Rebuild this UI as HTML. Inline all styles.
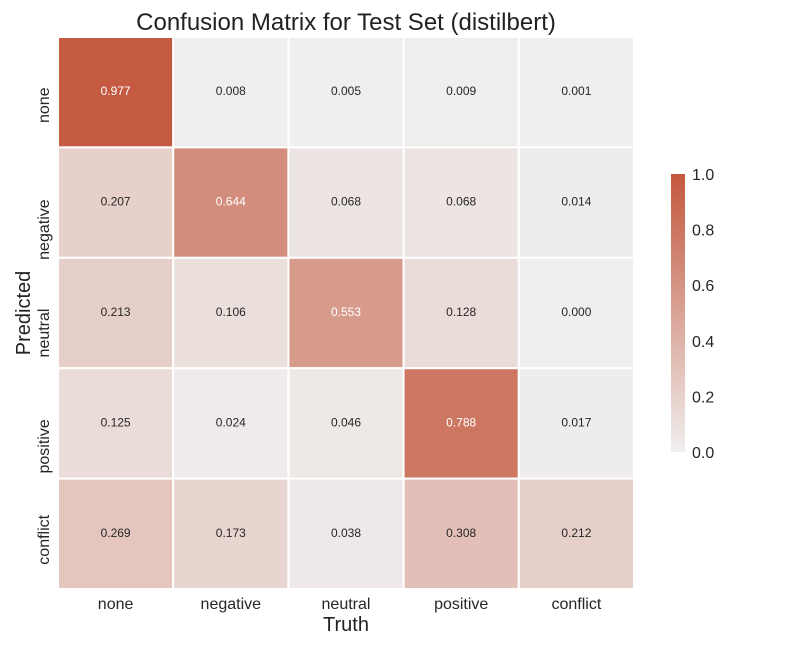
<!DOCTYPE html>
<html><head><meta charset="utf-8"><style>
body{margin:0;background:#fff;font-family:"Liberation Sans",sans-serif}
</style></head><body>
<svg id="c" width="792" height="648" xmlns="http://www.w3.org/2000/svg">
<defs><linearGradient id="g" x1="0" y1="1" x2="0" y2="0"><stop offset="0" stop-color="#f0efef"/><stop offset="1" stop-color="#c3573c"/></linearGradient></defs>
<text x="346" y="30" font-size="24" text-anchor="middle" fill="#222">Confusion Matrix for Test Set (distilbert)</text>
<text x="346" y="631" font-size="20" text-anchor="middle" fill="#222">Truth</text>
<text transform="translate(30,313) rotate(-90)" font-size="20" text-anchor="middle" fill="#222">Predicted</text>
<rect x="671" y="174" width="14" height="278" fill="url(#g)"/>
<g id="cells"></g><g id="ticks"></g>
</svg>
<script>
const labels=["none","negative","neutral","positive","conflict"];
const cbTicks=[0,0.2,0.4,0.6,0.8,1.0];
const row0=[0.977,0.008,0.005,0.009,0.001];
const row1=[0.207,0.644,0.068,0.068,0.014];
const row2=[0.213,0.106,0.553,0.128,0.000];
const row3=[0.125,0.024,0.046,0.788,0.017];
const row4=[0.269,0.173,0.038,0.308,0.212];
const rows=[row0,row1,row2,row3,row4];
const yLabelShift=[13,27,20,23,6];
const NS="http://www.w3.org/2000/svg";
const x0=58,y0=37,cw=576/5,ch=552/5;
function col(v){const a=[240,239,239],b=[195,87,60];return `rgb(${a.map((c,i)=>Math.round(c+(b[i]-c)*v)).join(',')})`;}
const g=document.getElementById('cells'),t=document.getElementById('ticks');
rows.forEach((r,i)=>r.forEach((v,j)=>{
 const re=document.createElementNS(NS,'rect');
 re.setAttribute('x',x0+j*cw);re.setAttribute('y',y0+i*ch);re.setAttribute('width',cw);re.setAttribute('height',ch);
 re.setAttribute('fill',col(v));re.setAttribute('stroke','#fff');re.setAttribute('stroke-width','2');
 
 
 g.appendChild(re);
 const tx=document.createElementNS(NS,'text');
 tx.setAttribute('x',x0+(j+.5)*cw);tx.setAttribute('y',y0+(i+.5)*ch+3);tx.setAttribute('text-anchor','middle');
 tx.setAttribute('font-size','12');tx.setAttribute('fill',v>0.5?'#fff':'#262626');tx.textContent=v.toFixed(3);
 
 
 g.appendChild(tx);
}));
labels.forEach((l,k)=>{
 const a=document.createElementNS(NS,'text');
 a.setAttribute('x',x0+(k+.5)*cw);a.setAttribute('y',609);a.setAttribute('text-anchor','middle');a.setAttribute('font-size','16');a.setAttribute('fill','#262626');a.textContent=l;
 
 
 t.appendChild(a);
 const b=document.createElementNS(NS,'text');
 b.setAttribute('transform',`translate(49,${y0+(k+.5)*ch+yLabelShift[k]}) rotate(-90)`);b.setAttribute('text-anchor','middle');b.setAttribute('font-size','16');b.setAttribute('fill','#262626');b.textContent=l;
 
 
 t.appendChild(b);
});
cbTicks.forEach(v=>{
 const a=document.createElementNS(NS,'text');
 a.setAttribute('x',692);a.setAttribute('y',452-278*v+6);a.setAttribute('font-size','16');a.setAttribute('fill','#262626');a.textContent=v.toFixed(1);
 
 
 t.appendChild(a);
});
</script>
</body></html>
